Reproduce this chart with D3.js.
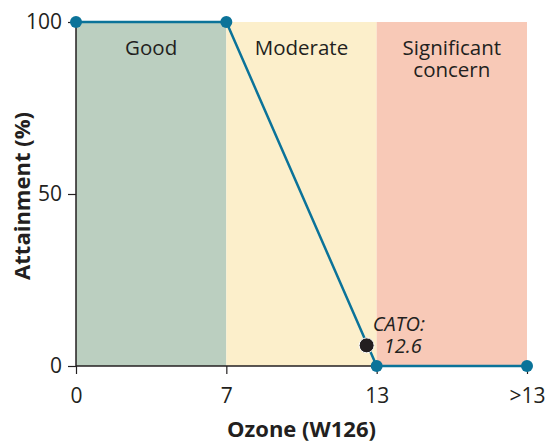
<html>
    <head>
        <style>
            body { margin: 0; background: #fff; }
            text { font-family: "Open Sans", sans-serif; fill: #231f20; }
        </style>
    </head>
    <body>
        <svg></svg>
        <script src="https://d3js.org/d3.v7.min.js"></script>
        <script>
            // data
            const xCategories = ["0", "7", "13", ">13"];
            const attainment = [100, 100, 0, 0];
            const zones = ["Good", "Moderate", "Significant concern"];
            const zoneColors = ["#bbcfc0", "#fcefcb", "#f8c9b7"];
            const yTicks = [0, 50, 100];
            const catoValue = 12.6;
            const catoAttainment = 6;

            const width = 545, height = 443;
            const margin = {top: 22, right: 18, bottom: 77, left: 76};
            const w = width - margin.left - margin.right;
            const h = height - margin.top - margin.bottom;

            const svg = d3.select("svg").attr("width", width).attr("height", height);
            const g = svg.append("g").attr("transform", "translate(" + margin.left + "," + margin.top + ")");

            const x = d3.scalePoint().domain(xCategories).range([0, w]);
            const y = d3.scaleLinear().domain([0, 100]).range([h, 0]);
            // numeric position between the labelled ticks
            const xNum = d3.scaleLinear().domain([0, 7, 13]).range([x("0"), x("7"), x("13")]);

            // zone bands
            const bands = zones.map(function(z, i) {
                return {name: z, x0: x(xCategories[i]), x1: x(xCategories[i + 1]), color: zoneColors[i]};
            });
            g.selectAll("rect.band").data(bands).join("rect")
                .attr("x", d => d.x0)
                .attr("y", y(100))
                .attr("width", d => d.x1 - d.x0)
                .attr("height", y(0) - y(100))
                .attr("fill", d => d.color);

            g.selectAll("text.zone").data(bands).join("text")
                .attr("text-anchor", "middle")
                .attr("font-size", 20.5)
                .attr("y", 33)
                .each(function(d) {
                    const words = d.name === "Significant concern" ? ["Significant", "concern"] : [d.name];
                    d3.select(this).selectAll("tspan").data(words).join("tspan")
                        .attr("x", (d.x0 + d.x1) / 2)
                        .attr("dy", (t, i) => i === 0 ? 0 : 22)
                        .text(t => t);
                });

            // axes
            const xAxis = g.append("g")
                .attr("transform", "translate(0," + h + ")")
                .call(d3.axisBottom(x).tickSize(8).tickPadding(14));
            const yAxis = g.append("g")
                .call(d3.axisLeft(y).tickValues(yTicks).tickSize(8).tickPadding(6));
            [xAxis, yAxis].forEach(function(a) {
                a.select(".domain").attr("stroke", "#231f20").attr("stroke-width", 1.5);
                a.selectAll(".tick line").attr("stroke", "#231f20").attr("stroke-width", 1.2);
                a.selectAll("text").attr("fill", "#231f20").attr("font-size", 21)
                    .attr("font-family", "Open Sans, sans-serif");
            });
            xAxis.select(".domain").attr("d", "M0,0H" + w);
            yAxis.select(".domain").attr("d", "M0," + h + "V0");

            // attainment line
            const pts = xCategories.map((c, i) => ({x: x(c), y: y(attainment[i])}));
            g.append("path")
                .datum(pts)
                .attr("fill", "none")
                .attr("stroke", "#0b7399")
                .attr("stroke-width", 2.5)
                .attr("d", d3.line().x(d => d.x).y(d => d.y));
            g.selectAll("circle.pt").data(pts).join("circle")
                .attr("cx", d => d.x)
                .attr("cy", d => d.y)
                .attr("r", 6)
                .attr("fill", "#0b7399");

            // CATO marker
            g.append("circle")
                .attr("cx", xNum(catoValue))
                .attr("cy", y(catoAttainment))
                .attr("r", 7.5)
                .attr("fill", "#231f20")
                .attr("stroke", "#fff")
                .attr("stroke-width", 1);
            g.append("text")
                .attr("font-size", 20)
                .attr("font-style", "italic")
                .attr("x", xNum(catoValue) + 6)
                .attr("y", y(catoAttainment) - 14)
                .text("CATO:");
            g.append("text")
                .attr("font-size", 20)
                .attr("font-style", "italic")
                .attr("x", xNum(catoValue) + 17)
                .attr("y", y(catoAttainment) + 8)
                .text(String(catoValue));

            // axis titles
            svg.append("text")
                .attr("text-anchor", "middle")
                .attr("font-weight", "bold")
                .attr("font-size", 22)
                .attr("x", margin.left + x("7") + (x("13") - x("7")) / 2)
                .attr("y", 437)
                .text("Ozone (W126)");
            svg.append("text")
                .attr("text-anchor", "middle")
                .attr("font-weight", "bold")
                .attr("font-size", 22)
                .attr("transform", "translate(30," + (margin.top + h / 2 + 2) + ") rotate(-90)")
                .text("Attainment (%)");
        </script>
    </body>
</html>
